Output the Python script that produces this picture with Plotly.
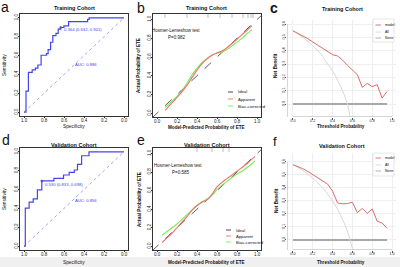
import plotly.graph_objects as go

W, H = 400, 267
FONT = "Arial, Liberation Sans, sans-serif"

# ---------------- data ----------------
# ROC, training cohort (step vertices, specificity / sensitivity)
roc_train_spec = [1.00, 0.98, 0.956, 0.918, 0.886, 0.861, 0.829, 0.775, 0.759, 0.734, 0.712,
                  0.68, 0.658, 0.633, 0.601, 0.554, 0.364, 0.348, 0.0]
roc_train_sens = [0.0, 0.224, 0.421, 0.448, 0.466, 0.5, 0.603, 0.621, 0.662, 0.741, 0.81,
                  0.834, 0.879, 0.897, 0.914, 0.959, 0.983, 1.0, 1.0]
roc_train_best = (0.633, 0.897)
roc_train_label = "0.364 (0.632, 0.901)"
roc_train_auc = "AUC: 0.886"

# ROC, validation cohort
roc_val_spec = [1.0, 0.987, 0.949, 0.908, 0.866, 0.822, 0.701, 0.605, 0.548, 0.497, 0.465,
                0.424, 0.35, 0.0]
roc_val_sens = [0.0, 0.404, 0.467, 0.502, 0.596, 0.691, 0.719, 0.754, 0.782, 0.807, 0.867,
                0.958, 1.0, 1.0]
roc_val_best = (0.822, 0.691)
roc_val_label = "0.530 (0.833, 0.698)"
roc_val_auc = "AUC: 0.856"

chance_line = [0.0, 1.0]

# Calibration, training cohort
cal_train_x = [0.08, 0.15, 0.20, 0.25, 0.30, 0.35, 0.40, 0.45, 0.50, 0.55, 0.60, 0.65,
               0.70, 0.75, 0.80, 0.85, 0.90, 0.95]
cal_train_app = [0.03, 0.11, 0.17, 0.23, 0.30, 0.38, 0.46, 0.53, 0.58, 0.62, 0.645, 0.665,
                 0.70, 0.745, 0.79, 0.84, 0.885, 0.935]
cal_train_bc = [0.06, 0.13, 0.18, 0.24, 0.32, 0.41, 0.48, 0.54, 0.585, 0.62, 0.64, 0.655,
                0.68, 0.72, 0.76, 0.80, 0.85, 0.89]
cal_train_rug = [0.08, 0.30, 0.51, 0.63, 0.75, 0.86, 0.91, 0.94, 0.96]
cal_train_p = "P=0.982"

# Calibration, validation cohort
cal_val_x = [0.05, 0.10, 0.15, 0.20, 0.25, 0.30, 0.35, 0.40, 0.45, 0.50, 0.55, 0.60, 0.65,
             0.70, 0.75, 0.80, 0.85, 0.90, 0.95, 0.98]
cal_val_app = [0.04, 0.09, 0.14, 0.20, 0.26, 0.32, 0.39, 0.44, 0.475, 0.50, 0.56, 0.64, 0.69,
               0.73, 0.77, 0.81, 0.85, 0.89, 0.94, 0.97]
cal_val_bc = [0.12, 0.16, 0.20, 0.24, 0.29, 0.34, 0.39, 0.44, 0.48, 0.51, 0.55, 0.61, 0.66,
              0.70, 0.74, 0.78, 0.81, 0.85, 0.89, 0.92]
cal_val_rug = [0.40, 0.55, 0.66, 0.72]
cal_val_p = "P=0.585"
ideal_line = [-0.05, 1.05]

# Decision curves
dca_thr = [0.0, 0.05, 0.10, 0.15, 0.20, 0.25, 0.30, 0.35, 0.40, 0.45, 0.50, 0.55, 0.60,
           0.65, 0.70, 0.75, 0.80, 0.85, 0.90, 0.95]
dca_train_model = [0.549, 0.53, 0.51, 0.49, 0.465, 0.44, 0.42, 0.395, 0.37, 0.36, 0.33, 0.29,
                   0.255, 0.22, 0.125, 0.155, 0.13, 0.145, 0.045, 0.095]
dca_train_all_thr = [0.0, 0.05, 0.10, 0.15, 0.20, 0.25, 0.30, 0.35, 0.40, 0.45, 0.50, 0.55, 0.575]
dca_train_all = [0.549, 0.525, 0.50, 0.47, 0.437, 0.40, 0.357, 0.30, 0.25, 0.18, 0.10, 0.0, -0.09]
dca_val_model = [0.579, 0.565, 0.548, 0.527, 0.504, 0.475, 0.455, 0.43, 0.375, 0.285, 0.278,
                 0.28, 0.29, 0.21, 0.243, 0.205, 0.238, 0.145, 0.13, 0.09]
dca_val_all_thr = [0.0, 0.05, 0.10, 0.15, 0.20, 0.25, 0.30, 0.35, 0.40, 0.45, 0.50, 0.55, 0.60]
dca_val_all = [0.579, 0.558, 0.533, 0.506, 0.475, 0.44, 0.40, 0.354, 0.30, 0.236, 0.16, 0.067, -0.065]
dca_none_thr = [0.0, 0.95]
dca_none = [0.0, 0.0]

roc_ticks = [1.0, 0.8, 0.6, 0.4, 0.2, 0.0]
cal_ticks = [0.0, 0.2, 0.4, 0.6, 0.8, 1.0]
dca_yticks = [0.0, 0.1, 0.2, 0.3, 0.4, 0.5, 0.6]

# ---------------- styles ----------------
BLUE = "#4545f0"
BLUE_LIGHT = "#9a9af2"
RED = "#f07070"
GREEN = "#77ee55"
DCA_RED = "#dc6a6a"
ALL_GRAY = "#d8d8d8"
NONE_GRAY = "#a8a8a8"


def dx(l, r):
    return [l / W, r / W]


def dy(t, b):
    return [1 - b / H, 1 - t / H]


fig = go.Figure()

# ---- panel a: training ROC ----
fig.add_trace(go.Scatter(x=chance_line[::-1], y=chance_line, mode="lines", xaxis="x", yaxis="y",
                         line=dict(color=BLUE_LIGHT, width=0.9, dash="dot")))
fig.add_trace(go.Scatter(x=roc_train_spec, y=roc_train_sens, mode="lines", xaxis="x", yaxis="y",
                         line=dict(color=BLUE, width=1.2, shape="hv")))
fig.add_trace(go.Scatter(x=[roc_train_best[0]], y=[roc_train_best[1]], mode="markers",
                         xaxis="x", yaxis="y", marker=dict(color=BLUE, size=2.5)))

# ---- panel d: validation ROC ----
fig.add_trace(go.Scatter(x=chance_line[::-1], y=chance_line, mode="lines", xaxis="x4", yaxis="y4",
                         line=dict(color=BLUE_LIGHT, width=0.9, dash="dot")))
fig.add_trace(go.Scatter(x=roc_val_spec, y=roc_val_sens, mode="lines", xaxis="x4", yaxis="y4",
                         line=dict(color=BLUE, width=1.2, shape="hv")))
fig.add_trace(go.Scatter(x=[roc_val_best[0]], y=[roc_val_best[1]], mode="markers",
                         xaxis="x4", yaxis="y4", marker=dict(color=BLUE, size=2.5)))

# ---- panel b / e: calibration ----
for xa, ya, cx, app, bc, rug in [("x2", "y2", cal_train_x, cal_train_app, cal_train_bc, cal_train_rug),
                                 ("x5", "y5", cal_val_x, cal_val_app, cal_val_bc, cal_val_rug)]:
    fig.add_trace(go.Scatter(x=ideal_line, y=ideal_line, mode="lines", xaxis=xa, yaxis=ya,
                             line=dict(color="#333333", width=0.8, dash="dash")))
    fig.add_trace(go.Scatter(x=cx, y=bc, mode="lines", xaxis=xa, yaxis=ya,
                             line=dict(color=GREEN, width=1.1, shape="spline")))
    fig.add_trace(go.Scatter(x=cx, y=app, mode="lines", xaxis=xa, yaxis=ya,
                             line=dict(color=RED, width=1.1, shape="spline")))
    fig.add_trace(go.Scatter(x=rug, y=[1.04] * len(rug), mode="markers", xaxis=xa, yaxis=ya,
                             marker=dict(symbol="line-ns", size=3, line=dict(color="#777777", width=0.5))))

# ---- panel c / f: decision curves ----
for xa, ya, model, allthr, allv in [("x3", "y3", dca_train_model, dca_train_all_thr, dca_train_all),
                                    ("x6", "y6", dca_val_model, dca_val_all_thr, dca_val_all)]:
    fig.add_trace(go.Scatter(x=dca_none_thr, y=dca_none, mode="lines", xaxis=xa, yaxis=ya,
                             line=dict(color=NONE_GRAY, width=1.8)))
    fig.add_trace(go.Scatter(x=allthr, y=allv, mode="lines", xaxis=xa, yaxis=ya,
                             line=dict(color=ALL_GRAY, width=1.0, shape="spline")))
    fig.add_trace(go.Scatter(x=dca_thr, y=model, mode="lines", xaxis=xa, yaxis=ya,
                             line=dict(color=DCA_RED, width=1.0)))

tickfont = dict(family=FONT, size=4.5, color="#222222")


def box_axis(domain, rng, tickvals, anchor, is_y=False):
    d = dict(domain=domain, range=rng, tickvals=tickvals,
             ticktext=["%.1f" % v for v in tickvals], ticks="outside", ticklen=1.5,
             tickwidth=0.5, tickcolor="#333333", showline=True, mirror=True,
             linecolor="#333333", linewidth=0.7, showgrid=False, zeroline=False,
             tickfont=tickfont, anchor=anchor, fixedrange=True, automargin=False,
             ticklabelstandoff=-2)
    if is_y:
        d["tickangle"] = -90
    return d


def dca_axis(domain, rng, tickvals, anchor, is_y=False):
    d = dict(domain=domain, range=rng, tickvals=tickvals,
             ticktext=["%.1f" % v for v in tickvals], ticks="outside", ticklen=1.5,
             tickwidth=0.5, tickcolor="#555555", showline=False, showgrid=True,
             gridcolor="#efefef", gridwidth=0.5, zeroline=False,
             tickfont=dict(family=FONT, size=3.8, color="#333333"), anchor=anchor,
             fixedrange=True, automargin=False, ticklabelstandoff=-2)
    if is_y:
        d["tickangle"] = -90
    return d


layout = dict(
    template="none",
    width=W, height=H, margin=dict(l=0, r=0, t=0, b=0, pad=0),
    paper_bgcolor="white", plot_bgcolor="white", showlegend=False,
    font=dict(family=FONT),
    xaxis=box_axis(dx(20, 128), [1.04, -0.04], roc_ticks, "y"),
    yaxis=box_axis(dy(14, 116), [-0.04, 1.04], roc_ticks, "x", True),
    xaxis2=box_axis(dx(153, 261), [-0.04, 1.04], cal_ticks, "y2"),
    yaxis2=box_axis(dy(14, 117), [-0.04, 1.06], cal_ticks, "x2", True),
    xaxis3=dca_axis(dx(287, 396), [-0.06, 1.04], cal_ticks, "y3"),
    yaxis3=dca_axis(dy(20, 117), [-0.0975, 0.63], dca_yticks, "x3", True),
    xaxis4=box_axis(dx(20, 128), [1.04, -0.04], roc_ticks, "y4"),
    yaxis4=box_axis(dy(148, 250), [-0.04, 1.04], roc_ticks, "x4", True),
    xaxis5=box_axis(dx(153, 261), [-0.04, 1.04], cal_ticks, "y5"),
    yaxis5=box_axis(dy(148, 250), [-0.04, 1.06], cal_ticks, "x5", True),
    xaxis6=dca_axis(dx(287, 396), [-0.06, 1.04], cal_ticks, "y6"),
    yaxis6=dca_axis(dy(153, 250), [-0.077, 0.669], dca_yticks, "x6", True),
)

ann = []


def txt(x, y, s, size, color="#111111", xanchor="center", angle=0, bold=False, family=FONT):
    ann.append(dict(x=x / W, y=1 - y / H, xref="paper", yref="paper", text=("<b>%s</b>" % s) if bold else s,
                    showarrow=False, xanchor=xanchor, yanchor="middle", textangle=angle,
                    font=dict(family=family, size=size, color=color)))


def dtxt(xa, ya, x, y, s, size, color, xanchor="left"):
    ann.append(dict(x=x, y=y, xref=xa, yref=ya, text=s, showarrow=False, xanchor=xanchor,
                    yanchor="middle", font=dict(family=FONT, size=size, color=color)))


# panel letters
txt(5, 7, "a", 14)
txt(141, 8, "b", 14)
txt(274, 8, "c", 14, bold=True)
txt(6, 140, "d", 14)
txt(141, 140, "e", 14)
txt(275, 141, "f", 13)

# titles
for cx, cy in [(74, 8), (207, 8), (342, 9)]:
    txt(cx, cy, "Training Cohort", 5.5, bold=True)
for cx, cy in [(74, 145), (207, 145), (342, 146)]:
    txt(cx, cy, "Validation Cohort", 5.5, bold=True)

# axis titles
txt(74, 126.5, "Specificity", 4.8)
txt(74, 262, "Specificity", 4.8)
txt(4, 65, "Sensitivity", 4.8, angle=-90)
txt(4, 199, "Sensitivity", 4.8, angle=-90)
txt(207, 127, "Model-Predicted Probability of ETE", 4.6, bold=True)
txt(207, 262, "Model-Predicted Probability of ETE", 4.6, bold=True)
txt(139, 66, "Actual Probability of ETE", 4.6, angle=-90, bold=True)
txt(139, 200, "Actual Probability of ETE", 4.6, angle=-90, bold=True)
txt(341, 126.5, "Threshold Probability", 4.6, bold=True)
txt(341, 262, "Threshold Probability", 4.6, bold=True)
txt(276, 66, "Net Benefit", 4.6, angle=-90, bold=True)
txt(276, 201, "Net Benefit", 4.6, angle=-90, bold=True)

# ROC annotations
dtxt("x", "y", 0.625, 0.875, roc_train_label, 4.2, BLUE)
dtxt("x", "y", 0.51, 0.51, roc_train_auc, 4.2, BLUE)
dtxt("x4", "y4", 0.815, 0.655, roc_val_label, 4.2, BLUE)
dtxt("x4", "y4", 0.51, 0.48, roc_val_auc, 4.2, BLUE)

# Hosmer-Lemeshow text
txt(176, 30, "Hosmer-Lemeshow test", 4.5)
txt(176, 37, cal_train_p, 4.5)
txt(178, 165, "Hosmer-Lemeshow test", 4.5)
txt(180, 172, cal_val_p, 4.5)

shapes = []

# calibration legends
for x0, rows in [(228, (92, 99, 106)), (226, (230, 236, 242))]:
    for (yy, col, dash, lab) in zip(rows, ["#333333", RED, GREEN], ["dash", "solid", "solid"],
                                    ["Ideal", "Apparent", "Bias-corrected"]):
        shapes.append(dict(type="line", xref="paper", yref="paper", x0=x0 / W, x1=(x0 + 5) / W,
                           y0=1 - yy / H, y1=1 - yy / H, line=dict(color=col, width=0.9, dash=dash)))
        txt(x0 + 8, yy, lab, 4.2, xanchor="left")

# DCA legends
for (bt, bb, rows) in [(19, 42, (25, 32, 38)), (153, 176, (158, 165, 171))]:
    shapes.append(dict(type="rect", xref="paper", yref="paper", x0=373 / W, x1=394 / W,
                       y0=1 - bb / H, y1=1 - bt / H, line=dict(color="#cccccc", width=0.5),
                       fillcolor="white"))
    for (yy, col, lab) in zip(rows, [DCA_RED, ALL_GRAY, NONE_GRAY], ["model", "All", "None"]):
        shapes.append(dict(type="line", xref="paper", yref="paper", x0=375.5 / W, x1=381 / W,
                           y0=1 - yy / H, y1=1 - yy / H, line=dict(color=col, width=0.9)))
        txt(383, yy, lab, 3.5, xanchor="left")

# DCA axis lines (base-R style)
for xa, ya, ylo, yhi in [("x3", "y3", -0.0975, 0.6), ("x6", "y6", -0.077, 0.6)]:
    shapes.append(dict(type="line", xref=xa, yref=ya, x0=0, x1=1.0, y0=ylo, y1=ylo,
                       line=dict(color="#777777", width=0.6)))
    shapes.append(dict(type="line", xref=xa, yref=ya, x0=-0.06, x1=-0.06, y0=ylo, y1=yhi,
                       line=dict(color="#777777", width=0.6)))

# light strip at the bottom of the page
shapes.append(dict(type="rect", xref="paper", yref="paper", x0=0, x1=1, y0=0, y1=10 / H,
                   fillcolor="#f0f0f0", line=dict(width=0), layer="below"))

layout["annotations"] = ann
layout["shapes"] = shapes
fig.update_layout(**layout)
fig.write_html("out.html", config={"displayModeBar": False},
               post_script="document.body.style.margin='0';document.body.style.padding='0';")
